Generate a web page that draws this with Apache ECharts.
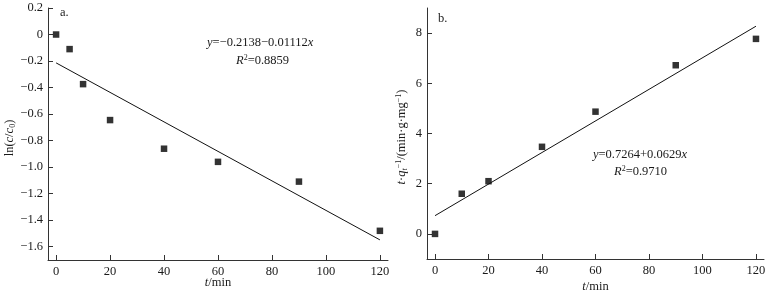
<!DOCTYPE html>
<html><head><meta charset="utf-8">
<script src="https://cdn.jsdelivr.net/npm/echarts@6/dist/echarts.min.js"></script>
<style>html,body{margin:0;padding:0;background:#fff}#c{width:771px;height:293px}</style>
</head><body><div id="c"></div>
<script>
// Panel a: pseudo-first-order
const timeA = [0, 5, 10, 20, 40, 60, 90, 120];
const lnA = [0, -0.11, -0.374, -0.645, -0.861, -0.96, -1.109, -1.48];
const fitAx = [0, 120];
const fitAy = [-0.2138, -1.5482];
// Panel b: pseudo-second-order
const timeB = [0, 10, 20, 40, 60, 90, 120];
const tqB = [0, 1.6, 2.1, 3.47, 4.87, 6.72, 7.77];
const fitBx = [0, 120];
const fitBy = [0.7264, 8.2744];
// ticks
const xTicks = [0, 20, 40, 60, 80, 100, 120];
const yTicksA = [-1.6, -1.4, -1.2, -1.0, -0.8, -0.6, -0.4, -0.2, 0, 0.2];
const yTicksB = [0, 2, 4, 6, 8];

const FONT = 'Liberation Serif';
const TXT = '#1a1a1a';
const pairs = (xs, ys) => xs.map((x, i) => [x, ys[i]]);
const minus = s => String(s).replace('-', '\u2212');

function axisCommon(ticks, fmt) {
  return {
    type: 'value',
    nameMoveOverlap: false,
    splitLine: { show: false },
    axisLine: { show: true, onZero: false, lineStyle: { color: '#333', width: 1 } },
    axisTick: { show: true, inside: true, length: 5, customValues: ticks, lineStyle: { color: '#333' } },
    axisLabel: { customValues: ticks, color: TXT, fontFamily: FONT, fontSize: 12.5, margin: 5, formatter: fmt }
  };
}

const option = {
  animation: false,
  backgroundColor: '#fff',
  textStyle: { fontFamily: FONT },
  grid: [
    { left: 48, top: 8, width: 340, height: 252, outerBoundsMode: 'none', containLabel: false },
    { left: 427, top: 8, width: 337, height: 251, outerBoundsMode: 'none', containLabel: false }
  ],
  xAxis: [
    Object.assign(axisCommon(xTicks, v => minus(v)), {
      gridIndex: 0, min: -3, max: 123,
      name: '{i|t}/min', nameLocation: 'middle', nameGap: 16,
      nameTextStyle: { color: TXT, fontFamily: FONT, fontSize: 12.5, rich: { i: { fontStyle: 'italic', fontFamily: FONT, fontSize: 12.5, color: TXT } } }
    }),
    Object.assign(axisCommon(xTicks, v => minus(v)), {
      gridIndex: 1, min: -3, max: 123,
      name: '{i|t}/min', nameLocation: 'middle', nameGap: 21,
      nameTextStyle: { color: TXT, fontFamily: FONT, fontSize: 12.5, rich: { i: { fontStyle: 'italic', fontFamily: FONT, fontSize: 12.5, color: TXT } } }
    })
  ],
  yAxis: [
    Object.assign(axisCommon(yTicksA, v => Math.abs(v) < 1e-9 ? '0' : minus(v.toFixed(1))), {
      gridIndex: 0, min: -1.7, max: 0.2,
      name: 'ln({i|c}/{i|c}{s|0})', nameLocation: 'middle', nameGap: 31,
      nameTextStyle: { color: TXT, fontFamily: FONT, fontSize: 12.5, padding: [0, 8, 0, 0],
        rich: { i: { fontStyle: 'italic', fontFamily: FONT, fontSize: 12.5, color: TXT },
                s: { fontFamily: FONT, fontSize: 8, color: TXT, padding: [6, 0, 0, 0] } } }
    }),
    Object.assign(axisCommon(yTicksB, v => minus(v)), {
      gridIndex: 1, min: -1, max: 9,
      name: '{i|t}·{i|q}{s|t}{p|\u22121}/(min·g·mg{p|\u22121})', nameLocation: 'middle', nameGap: 18,
      nameTextStyle: { color: TXT, fontFamily: FONT, fontSize: 12.5, padding: [0, 7, 0, 0],
        rich: { i: { fontStyle: 'italic', fontFamily: FONT, fontSize: 12.5, color: TXT },
                s: { fontStyle: 'italic', fontFamily: FONT, fontSize: 8, color: TXT, padding: [6, 0, 0, 0] },
                p: { fontFamily: FONT, fontSize: 8, color: TXT, padding: [0, 0, 6, 0] } } }
    })
  ],
  series: [
    { type: 'scatter', xAxisIndex: 0, yAxisIndex: 0, symbol: 'rect', symbolSize: 6.5,
      itemStyle: { color: '#000' }, data: pairs(timeA, lnA) },
    { type: 'line', xAxisIndex: 0, yAxisIndex: 0, symbol: 'none', lineStyle: { color: '#111', width: 1 },
      data: pairs(fitAx, fitAy) },
    { type: 'scatter', xAxisIndex: 1, yAxisIndex: 1, symbol: 'rect', symbolSize: 6.5,
      itemStyle: { color: '#000' }, data: pairs(timeB, tqB) },
    { type: 'line', xAxisIndex: 1, yAxisIndex: 1, symbol: 'none', lineStyle: { color: '#111', width: 1 },
      data: pairs(fitBx, fitBy) }
  ],
  graphic: [
    { type: 'text', left: 60, top: 6, style: { text: 'a.', font: '12.5px "Liberation Serif"', fill: TXT } },
    { type: 'text', left: 438, top: 12, style: { text: 'b.', font: '12.5px "Liberation Serif"', fill: TXT } },
    { type: 'text', left: 207, top: 36, style: {
        text: '{i|y}=\u22120.2138\u22120.01112{i|x}', font: '12.5px "Liberation Serif"', fill: TXT,
        rich: { i: { fontStyle: 'italic', fontFamily: FONT, fontSize: 12.5, fill: TXT } } } },
    { type: 'text', left: 236, top: 54, style: {
        text: '{i|R}{p|2}=0.8859', font: '12.5px "Liberation Serif"', fill: TXT,
        rich: { i: { fontStyle: 'italic', fontFamily: FONT, fontSize: 12.5, fill: TXT },
                p: { fontFamily: FONT, fontSize: 8, fill: TXT, padding: [0, 0, 6, 0] } } } },
    { type: 'text', left: 593, top: 148, style: {
        text: '{i|y}=0.7264+0.0629{i|x}', font: '12.5px "Liberation Serif"', fill: TXT,
        rich: { i: { fontStyle: 'italic', fontFamily: FONT, fontSize: 12.5, fill: TXT } } } },
    { type: 'text', left: 614, top: 165, style: {
        text: '{i|R}{p|2}=0.9710', font: '12.5px "Liberation Serif"', fill: TXT,
        rich: { i: { fontStyle: 'italic', fontFamily: FONT, fontSize: 12.5, fill: TXT },
                p: { fontFamily: FONT, fontSize: 8, fill: TXT, padding: [0, 0, 6, 0] } } } }
  ]
};
echarts.init(document.getElementById('c'), null, { renderer: 'canvas' }).setOption(option);
</script></body></html>
